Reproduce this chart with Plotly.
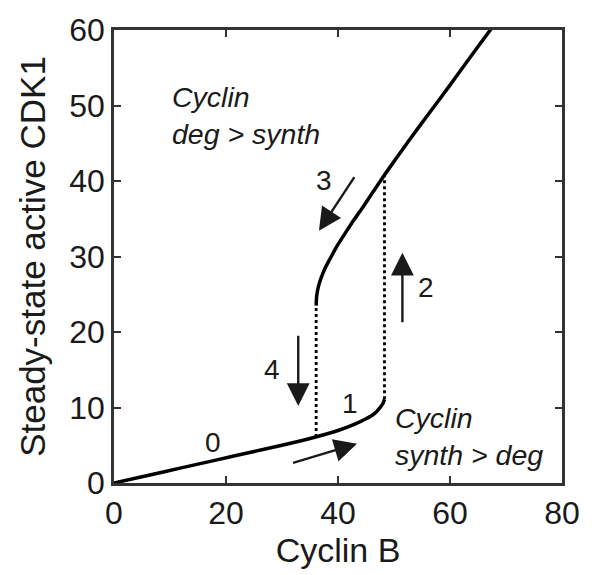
import plotly.graph_objects as go

# Lower (low-CDK1) steady-state branch
lower_x = [0, 6, 12, 18, 24, 30, 36, 40, 43, 45, 46.5, 47.4, 48.0, 48.3]
lower_y = [0, 1.0, 2.0, 3.0, 4.0, 5.0, 6.1, 6.95, 7.8, 8.5, 9.2, 9.9, 10.5, 11.1]

# Upper (high-CDK1) steady-state branch
upper_x = [36.1, 36.2, 36.5, 37.0, 37.8, 38.8, 40.0, 41.3, 42.8, 44.5, 46.3, 48.3,
           50.5, 53, 56, 60, 64, 67.2, 68]
upper_y = [23.5, 24.8, 26.0, 27.2, 28.6, 30.0, 31.6, 33.1, 34.8, 36.6, 38.6, 40.8,
           43.1, 45.7, 48.7, 52.7, 56.8, 60.0, 60.8]

# Transition (dotted) lines
jump_left_x = [36.1, 36.1]
jump_left_y = [6.1, 23.5]
jump_right_x = [48.3, 48.3]
jump_right_y = [11.1, 40.8]

# Arrows: (tail_x, tail_y, head_x, head_y)
arrows = [
    (31.7, 2.6, 43.4, 5.2),    # 1
    (51.5, 21.1, 51.5, 30.5),  # 2
    (43.1, 40.7, 36.6, 33.4),  # 3
    (32.9, 19.7, 32.9, 10.2),  # 4
]
# Number labels
num_labels = ["0", "1", "2", "3", "4"]
num_x = [17.7, 42.2, 55.7, 37.5, 28.2]
num_y = [5.4, 10.5, 25.9, 40.1, 15.1]

# Region texts
region_texts = ["Cyclin<br>deg > synth", "Cyclin<br>synth > deg"]
region_x = [10.0, 49.8]
region_y = [48.7, 6.2]

x_ticks = [0, 20, 40, 60, 80]
y_ticks = [0, 10, 20, 30, 40, 50, 60]

FONT = "Liberation Sans, Arial, Helvetica, sans-serif"
INK = "#1a1a1a"

fig = go.Figure()
for xs, ys in [(lower_x, lower_y), (upper_x, upper_y)]:
    fig.add_trace(go.Scatter(x=xs, y=ys, mode="lines",
                             line=dict(color="black", width=3.5, shape="spline", smoothing=0.8),
                             showlegend=False))
for xs, ys in [(jump_left_x, jump_left_y), (jump_right_x, jump_right_y)]:
    fig.add_trace(go.Scatter(x=xs, y=ys, mode="lines",
                             line=dict(color="black", width=2.8, dash="dot"),
                             showlegend=False))

annotations = []
for tx, ty, hx, hy in arrows:
    annotations.append(dict(x=hx, y=hy, ax=tx, ay=ty, xref="x", yref="y",
                            axref="x", ayref="y", text="", showarrow=True,
                            arrowhead=2, arrowsize=1.9, arrowwidth=2.4,
                            arrowcolor=INK))
for t, x, y in zip(num_labels, num_x, num_y):
    annotations.append(dict(x=x, y=y, xref="x", yref="y", text=t, showarrow=False,
                            font=dict(family=FONT, size=28, color=INK)))
for t, x, y in zip(region_texts, region_x, region_y):
    annotations.append(dict(x=x, y=y, xref="x", yref="y", text="<i>" + t + "</i>",
                            showarrow=False, xanchor="left", yanchor="middle", align="left",
                            font=dict(family=FONT, size=28.5, color=INK)))
fig.update_layout(annotations=annotations)

axis_common = dict(showline=True, linecolor="#333333", linewidth=2.5, mirror="ticks",
                   ticks="inside", ticklen=7, tickwidth=2, tickcolor="#333333",
                   showgrid=False, zeroline=False,
                   tickfont=dict(family=FONT, size=32, color=INK))
fig.update_xaxes(range=[0, 80], tickvals=x_ticks, ticktext=[str(v) for v in x_ticks],
                 title=dict(text="Cyclin B", font=dict(family=FONT, size=34, color=INK),
                            standoff=8),
                 **axis_common)
fig.update_yaxes(range=[0, 60], tickvals=y_ticks, ticktext=[str(v) for v in y_ticks],
                 title=dict(text="Steady-state active CDK1",
                            font=dict(family=FONT, size=35, color=INK), standoff=14),
                 **axis_common)
fig.update_layout(width=592, height=575, margin=dict(l=114, r=21, t=25, b=92),
                  paper_bgcolor="white", plot_bgcolor="white")
fig.write_html("out.html")
